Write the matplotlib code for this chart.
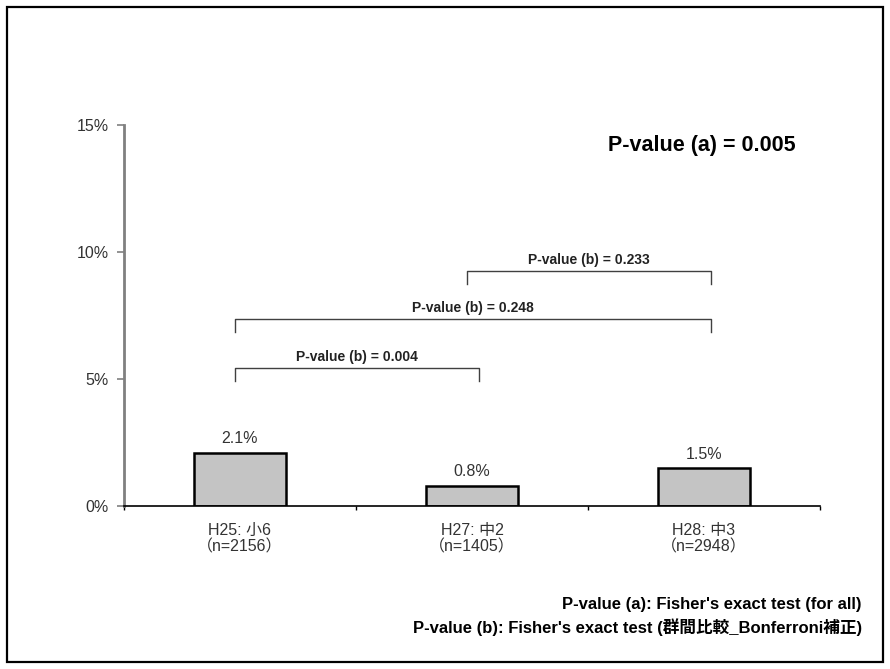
import numpy as np
import matplotlib.pyplot as plt
from matplotlib.patches import Rectangle

plt.rcParams['font.family'] = ['Liberation Sans', 'Noto Sans CJK JP', 'DejaVu Sans']

# data
categories = ['H25: 小6\n（n=2156）', 'H27: 中2\n（n=1405）', 'H28: 中3\n（n=2948）']
rates = [2.1, 0.8, 1.5]
rate_labels = ['2.1%', '0.8%', '1.5%']
yticks = [0, 5, 10, 15]
ytick_labels = ['0%', '5%', '10%', '15%']

# pairwise comparisons: (left bar, right bar, bracket height %, p-value text)
pairs = [(0, 1, 5.43, 'P-value (b) = 0.004'),
         (0, 2, 7.36, 'P-value (b) = 0.248'),
         (1, 2, 9.25, 'P-value (b) = 0.233')]
p_all = 'P-value (a) = 0.005'
notes = ["P-value (a): Fisher's exact test (for all)",
         "P-value (b): Fisher's exact test (群間比較_Bonferroni補正)"]

W, H = 890, 669
fig = plt.figure(figsize=(W/100, H/100), dpi=100)

# outer frame
fig.patches.append(Rectangle((7/W, 7/H), 876/W, 655/H, transform=fig.transFigure,
                             fill=False, edgecolor='black', linewidth=1.6))

ax = fig.add_axes([124/W, (H-506)/H, (820-124)/W, (506-125)/H])
x = np.arange(len(categories))
ax.bar(x, rates, width=0.4, color='#c4c4c4', edgecolor='black', linewidth=1.8, zorder=2)

for i in range(len(rates)):
    ax.text(x[i], rates[i] + 0.25, rate_labels[i], ha='center', va='bottom',
            fontsize=11.5, color='#333333')

ax.set_xlim(-0.5, 2.5)
ax.set_ylim(0, 15)
ax.set_yticks(yticks)
ax.set_yticklabels(ytick_labels, fontsize=11.5, color='#333333')
ax.set_xticks([-0.5, 0.5, 1.5, 2.5])
ax.set_xticklabels([])
ax.set_xticks(x, minor=True)
ax.set_xticklabels(categories, minor=True, fontsize=11.5, color='#333333',
                   linespacing=1.1)
ax.tick_params(axis='x', which='minor', length=0, pad=12)
ax.tick_params(axis='x', which='major', length=3, width=1, direction='out')
ax.tick_params(axis='y', length=5, width=1.2, color='#808080', pad=6)

ax.spines['top'].set_visible(False)
ax.spines['right'].set_visible(False)
ax.spines['left'].set_color('#808080')
ax.spines['left'].set_linewidth(2)
ax.spines['bottom'].set_linewidth(1.2)

# brackets
for a, b, h, txt in pairs:
    xa, xb = x[a] - 0.02, x[b] + 0.03
    ax.plot([xa, xa, xb, xb], [h - 0.5, h, h, h - 0.5], color='#404040', linewidth=1)
    ax.text((xa + xb) / 2, h + 0.45, txt, ha='center', va='center',
            fontsize=10, fontweight='bold', color='#222222')

fig.text(702/W, 1 - 145/H, p_all, ha='center', va='center',
         fontsize=15.5, fontweight='bold')
fig.text(862/W, 1 - 605/H, notes[0], ha='right', va='center', fontsize=12, fontweight='bold')
fig.text(862/W, 1 - 627/H, notes[1], ha='right', va='center', fontsize=12, fontweight='bold')

fig.savefig('out.png', dpi=100)
